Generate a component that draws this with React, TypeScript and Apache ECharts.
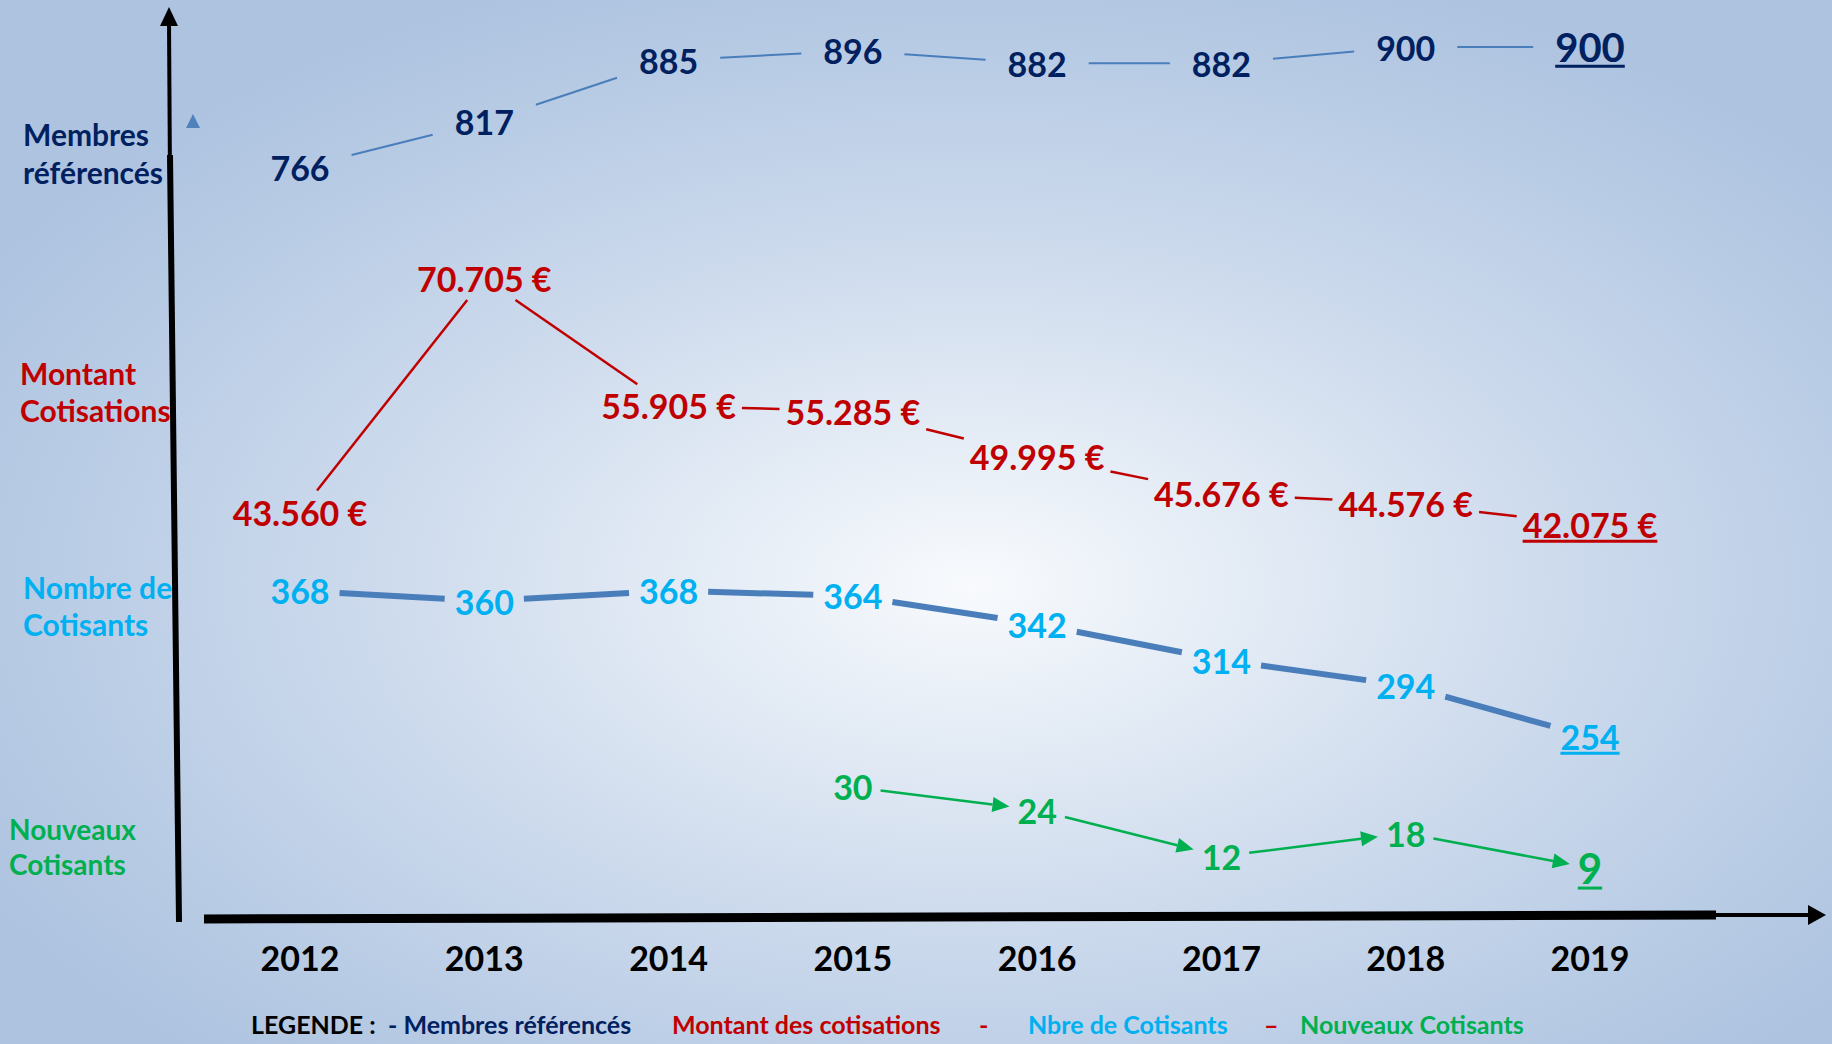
import React, { useEffect, useRef } from "react";
import * as echarts from "echarts";

const years = ["2012", "2013", "2014", "2015", "2016", "2017", "2018", "2019"];
const membres: (number | null)[] = [766, 817, 885, 896, 882, 882, 900, 900];
const montant: (number | null)[] = [43560, 70705, 55905, 55285, 49995, 45676, 44576, 42075];
const cotisants: (number | null)[] = [368, 360, 368, 364, 342, 314, 294, 254];
const nouveaux: (number | null)[] = [null, null, null, 30, 24, 12, 18, 9];

const sideLabels = [
  ["Membres", "référencés"],
  ["Montant", "Cotisations"],
  ["Nombre de", "Cotisants"],
  ["Nouveaux", "Cotisants"],
];
const legendParts = [
  "LEGENDE :",
  "- Membres référencés",
  "Montant des cotisations",
  "-",
  "Nbre de Cotisants",
  "–",
  "Nouveaux Cotisants",
];

const FONT = "Lato, 'Noto Sans', sans-serif";
const NAVY = "#002060";
const RED = "#C00000";
const CYAN = "#00B0F0";
const GREEN = "#00B050";
const STEEL = "#4A7EBB";

let measureCtx: CanvasRenderingContext2D | null = null;
function tw(text: string, size: number): number {
  if (!measureCtx) measureCtx = document.createElement("canvas").getContext("2d");
  if (!measureCtx) return text.length * size * 0.5;
  measureCtx.font = `bold ${size}px ${FONT}`;
  return measureCtx.measureText(text).width;
}

const fmtInt = (v: number) => String(v);
const fmtEuro = (v: number) => String(v).replace(/\B(?=(\d{3})+(?!\d))/g, ".") + " €";

type Opts = {
  color: string;
  line: string;
  lineWidth: number;
  size: number;
  lastSize: number;
  gap: number;
  gapY: number;
  arrow?: boolean;
  fmt: (v: number) => string;
};

function makeRender(values: (number | null)[], o: Opts) {
  return (_params: any, api: any) => {
    const i = api.value(0) as number;
    const v = api.value(1) as number;
    const p = api.coord([i, v]);
    const last = i === values.length - 1;
    const fs = last ? o.lastSize : o.size;
    const text = o.fmt(v);
    const w = tw(text, fs);
    const children: any[] = [
      {
        type: "text",
        z2: 10,
        style: {
          text,
          x: p[0],
          y: p[1],
          align: "center",
          verticalAlign: "middle",
          fill: o.color,
          fontSize: fs,
          fontWeight: "bold",
          fontFamily: FONT,
        },
      },
    ];
    if (last) {
      const uy = p[1] + fs * 0.48;
      children.push({
        type: "line",
        shape: { x1: p[0] - w / 2, y1: uy, x2: p[0] + w / 2, y2: uy },
        style: { stroke: o.color, lineWidth: 3 },
      });
    }
    const j = i - 1;
    if (j >= 0 && values[j] != null) {
      const pv = values[j] as number;
      const q = api.coord([j, pv]);
      const wq = tw(o.fmt(pv), o.size);
      const dx = p[0] - q[0];
      const dy = p[1] - q[1];
      const adx = Math.abs(dx) || 1e-6;
      const ady = Math.abs(dy) || 1e-6;
      const s0 = Math.min((wq / 2 + o.gap) / adx, (o.size * 0.4 + o.gapY) / ady);
      const s1 = Math.min((w / 2 + o.gap) / adx, (fs * 0.4 + o.gapY) / ady);
      if (s0 + s1 < 0.95) {
        const x1 = q[0] + dx * s0;
        const y1 = q[1] + dy * s0;
        const x2 = p[0] - dx * s1;
        const y2 = p[1] - dy * s1;
        if (o.arrow) {
          const len = Math.hypot(x2 - x1, y2 - y1);
          const ux = (x2 - x1) / len;
          const uy = (y2 - y1) / len;
          const L = 17;
          const W = 15;
          const bx = x2 - ux * L;
          const by = y2 - uy * L;
          children.push({
            type: "line",
            shape: { x1, y1, x2: bx, y2: by },
            style: { stroke: o.line, lineWidth: o.lineWidth },
          });
          children.push({
            type: "polygon",
            shape: {
              points: [
                [x2, y2],
                [bx - (uy * W) / 2, by + (ux * W) / 2],
                [bx + (uy * W) / 2, by - (ux * W) / 2],
              ],
            },
            style: { fill: o.line },
          });
        } else {
          children.push({
            type: "line",
            shape: { x1, y1, x2, y2 },
            style: { stroke: o.line, lineWidth: o.lineWidth, lineCap: "butt" },
          });
        }
      }
    }
    return { type: "group", children };
  };
}

const toData = (vals: (number | null)[]) =>
  vals.map((v, i) => (v == null ? null : [i, v])).filter((d) => d != null);

export default function App() {
  const ref = useRef<HTMLDivElement>(null);
  useEffect(() => {
    document.body.style.margin = "0";
    document.body.style.overflow = "hidden";
    if (!ref.current) return;
    const chart = echarts.init(ref.current, undefined, { renderer: "svg" });
    const W = 1832;
    const H = 1044;

    const gridLeft = 300;
    const gridRight = 242;
    const grids = [
      { top: 20, height: 230, min: 675, max: 930 },
      { top: 250, height: 310, min: 38000, max: 74000 },
      { top: 560, height: 200, min: 236, max: 392 },
      { top: 760, height: 158, min: -4, max: 37 },
    ];

    const sideColors = [NAVY, RED, CYAN, GREEN];
    const sidePos = [
      { x: 23, y1: 134, y2: 172, fs: 30 },
      { x: 20, y1: 373, y2: 410, fs: 30 },
      { x: 23, y1: 587, y2: 624, fs: 30 },
      { x: 9, y1: 829, y2: 864, fs: 28 },
    ];
    const legendColors = ["#000000", NAVY, RED, RED, CYAN, RED, GREEN];
    const legendX = [251, 388, 672, 979, 1028, 1264, 1300];

    const graphics: any[] = [
      {
        type: "rect",
        z: -100,
        shape: { x: 0, y: 0, width: W, height: H },
        style: {
          fill: {
            type: "radial",
            x: 0.53,
            y: 0.56,
            r: 0.62,
            colorStops: [
              { offset: 0, color: "#F8FAFD" },
              { offset: 0.25, color: "#E3EBF5" },
              { offset: 0.55, color: "#CBD9EC" },
              { offset: 0.85, color: "#B6CAE4" },
              { offset: 1, color: "#AEC3E0" },
            ],
          },
        },
        silent: true,
      },
      // vertical axis
      { type: "line", z: 5, shape: { x1: 169, y1: 22, x2: 170, y2: 180 }, style: { stroke: "#000", lineWidth: 4 } },
      { type: "line", z: 5, shape: { x1: 170, y1: 155, x2: 179, y2: 922 }, style: { stroke: "#000", lineWidth: 6 } },
      { type: "polygon", z: 5, shape: { points: [[169, 7], [160, 26], [178, 26]] }, style: { fill: "#000" } },
      // small triangle
      { type: "polygon", z: 5, shape: { points: [[186, 128], [200, 128], [193, 114]] }, style: { fill: "#4F81BD" } },
      // horizontal axis
      { type: "line", z: 5, shape: { x1: 204, y1: 919, x2: 1716, y2: 915 }, style: { stroke: "#000", lineWidth: 9 } },
      { type: "line", z: 5, shape: { x1: 1714, y1: 915, x2: 1812, y2: 915 }, style: { stroke: "#000", lineWidth: 4 } },
      { type: "polygon", z: 5, shape: { points: [[1826, 915], [1808, 905], [1808, 925]] }, style: { fill: "#000" } },
    ];
    sideLabels.forEach((lines, k) => {
      const sp = sidePos[k];
      [sp.y1, sp.y2].forEach((yy, li) => {
        graphics.push({
          type: "text",
          z: 6,
          style: {
            text: lines[li],
            x: sp.x,
            y: yy,
            align: "left",
            verticalAlign: "middle",
            fill: sideColors[k],
            fontSize: sp.fs,
            fontWeight: "bold",
            fontFamily: FONT,
          },
        });
      });
    });
    legendParts.forEach((t, k) => {
      graphics.push({
        type: "text",
        z: 6,
        style: {
          text: t,
          x: legendX[k],
          y: 1024,
          align: "left",
          verticalAlign: "middle",
          fill: legendColors[k],
          fontSize: 25,
          fontWeight: "bold",
          fontFamily: FONT,
        },
      });
    });

    const series = [
      { vals: membres, o: { color: NAVY, line: STEEL, lineWidth: 2, size: 34, lastSize: 40, gap: 22, gapY: 6, fmt: fmtInt } },
      { vals: montant, o: { color: RED, line: RED, lineWidth: 2.5, size: 34, lastSize: 34, gap: 6, gapY: 8, fmt: fmtEuro } },
      { vals: cotisants, o: { color: CYAN, line: STEEL, lineWidth: 6, size: 34, lastSize: 34, gap: 10, gapY: 6, fmt: fmtInt } },
      { vals: nouveaux, o: { color: GREEN, line: GREEN, lineWidth: 2.5, size: 34, lastSize: 42, gap: 8, gapY: 4, arrow: true, fmt: fmtInt } },
    ];

    const option: any = {
      animation: false,
      backgroundColor: "#C8D7EB",
      grid: grids.map((g) => ({ left: gridLeft, right: gridRight, top: g.top, height: g.height, containLabel: false })),
      xAxis: grids.map((_g, k) => ({
        type: "category",
        gridIndex: k,
        data: years,
        boundaryGap: false,
        show: k === 3,
        axisLine: { show: false },
        axisTick: { show: false },
        splitLine: { show: false },
        axisLabel: {
          show: k === 3,
          interval: 0,
          margin: 22,
          color: "#000",
          fontSize: 34,
          fontWeight: "bold",
          fontFamily: FONT,
        },
      })),
      yAxis: grids.map((g, k) => ({
        type: "value",
        gridIndex: k,
        min: g.min,
        max: g.max,
        show: false,
        splitLine: { show: false },
      })),
      graphic: graphics,
      series: series.map((s, k) => ({
        type: "custom",
        name: years[k],
        xAxisIndex: k,
        yAxisIndex: k,
        clip: false,
        z: 3,
        data: toData(s.vals),
        encode: { x: 0, y: 1 },
        renderItem: makeRender(s.vals, s.o as Opts),
      })),
    };
    chart.setOption(option);
    return () => chart.dispose();
  }, []);
  return <div ref={ref} style={{ width: "1832px", height: "1044px" }} />;
}
